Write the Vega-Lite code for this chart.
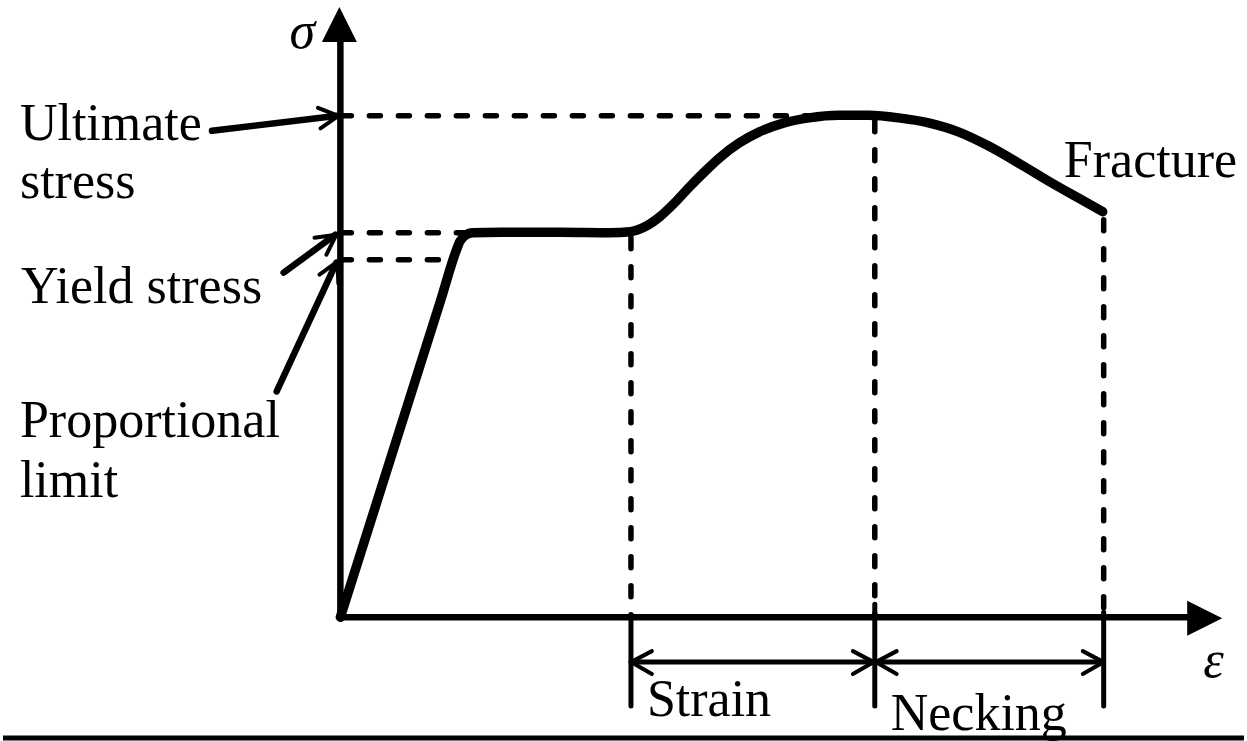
{
  "$schema": "https://vega.github.io/schema/vega-lite/v6.json",
  "autosize": {"type": "fit", "contains": "padding"},
  "width": 1247,
  "height": 741,
  "padding": 0,
  "background": "white",
  "config": {"view": {"stroke": null}},
  "datasets": {
    "curve": [
      {"strain": 0, "stress": 0},
      {"strain": 101, "stress": 318},
      {"strain": 116, "stress": 366},
      {"strain": 120, "stress": 376},
      {"strain": 125, "stress": 382},
      {"strain": 133, "stress": 385},
      {"strain": 161, "stress": 385.5},
      {"strain": 221, "stress": 385.5},
      {"strain": 271, "stress": 385},
      {"strain": 291, "stress": 386},
      {"strain": 306, "stress": 391},
      {"strain": 321, "stress": 401},
      {"strain": 336, "stress": 415},
      {"strain": 351, "stress": 431},
      {"strain": 366, "stress": 446},
      {"strain": 381, "stress": 460},
      {"strain": 401, "stress": 475},
      {"strain": 421, "stress": 486},
      {"strain": 446, "stress": 495},
      {"strain": 471, "stress": 500},
      {"strain": 501, "stress": 502.5},
      {"strain": 531, "stress": 502.5},
      {"strain": 561, "stress": 500},
      {"strain": 591, "stress": 495},
      {"strain": 621, "stress": 486},
      {"strain": 651, "stress": 472},
      {"strain": 681, "stress": 455},
      {"strain": 711, "stress": 437},
      {"strain": 741, "stress": 420},
      {"strain": 766, "stress": 406}
    ],
    "axes": [
      {"e1": 0, "s1": 0, "e2": 0, "s2": 578},
      {"e1": 0, "s1": 0, "e2": 856, "s2": 0}
    ],
    "tips": [
      {"e": -1, "s": 593.5, "dir": "up"},
      {"e": 868.5, "s": -1, "dir": "right"}
    ],
    "guides": [
      {"e1": 0, "s1": 502, "e2": 536, "s2": 502},
      {"e1": 0, "s1": 385, "e2": 124, "s2": 385},
      {"e1": 0, "s1": 358, "e2": 112, "s2": 358},
      {"e1": 292, "s1": 380, "e2": 292, "s2": 0},
      {"e1": 537, "s1": 497, "e2": 537, "s2": 0},
      {"e1": 767, "s1": 398, "e2": 767, "s2": 0}
    ],
    "dims": [
      {"e1": 292, "s1": 0, "e2": 292, "s2": -89},
      {"e1": 537, "s1": 13, "e2": 537, "s2": -89},
      {"e1": 767, "s1": 5, "e2": 767, "s2": -89},
      {"e1": 292, "s1": -45, "e2": 537, "s2": -45},
      {"e1": 537, "s1": -45, "e2": 767, "s2": -45}
    ],
    "leaders": [
      {"e1": -129, "s1": 487, "e2": -3, "s2": 502},
      {"e1": -57, "s1": 345, "e2": -5, "s2": 383},
      {"e1": -64, "s1": 226, "e2": -4, "s2": 355}
    ],
    "heads": [
      {"e1": -2, "s1": 502, "e2": -22.5, "s2": 510},
      {"e1": -2, "s1": 502, "e2": -20, "s2": 489.5},
      {"e1": -4, "s1": 383, "e2": -26, "s2": 380},
      {"e1": -4, "s1": 383, "e2": -14, "s2": 363},
      {"e1": -3, "s1": 356, "e2": -21, "s2": 343},
      {"e1": -3, "s1": 356, "e2": -2, "s2": 334},
      {"e1": 292, "s1": -45, "e2": 313, "s2": -34},
      {"e1": 292, "s1": -45, "e2": 313, "s2": -57},
      {"e1": 536, "s1": -45, "e2": 515, "s2": -34},
      {"e1": 536, "s1": -45, "e2": 515, "s2": -57},
      {"e1": 538, "s1": -45, "e2": 559, "s2": -34},
      {"e1": 538, "s1": -45, "e2": 559, "s2": -57},
      {"e1": 767, "s1": -45, "e2": 746, "s2": -34},
      {"e1": 767, "s1": -45, "e2": 746, "s2": -57}
    ],
    "frame": [
      {"e1": -339, "s1": -121, "e2": 908, "s2": -121}
    ],
    "labels": [
      {"e": -322, "s": 478, "text": "Ultimate"},
      {"e": -322, "s": 420, "text": "stress"},
      {"e": -321, "s": 315, "text": "Yield stress"},
      {"e": -322, "s": 180, "text": "Proportional"},
      {"e": -322, "s": 120, "text": "limit"},
      {"e": 727, "s": 441, "text": "Fracture"},
      {"e": 308, "s": -99, "text": "Strain"},
      {"e": 553, "s": -113, "text": "Necking"}
    ],
    "symbols": [
      {"e": -51, "s": 570, "text": "σ"},
      {"e": 867, "s": -60, "text": "ε"}
    ]
  },
  "layer": [
    {
      "data": {"name": "guides"},
      "mark": {"type": "rule", "color": "black", "strokeWidth": 5.5, "strokeDash": [11, 18], "strokeCap": "round"},
      "encoding": {
        "x": {"field": "e1", "type": "quantitative", "scale": {"domain": [-339, 908], "nice": false, "zero": false}, "axis": null},
        "y": {"field": "s1", "type": "quantitative", "scale": {"domain": [-123, 618], "nice": false, "zero": false}, "axis": null},
        "x2": {"field": "e2"},
        "y2": {"field": "s2"}
      }
    },
    {
      "data": {"name": "axes"},
      "mark": {"type": "rule", "color": "black", "strokeWidth": 6.5},
      "encoding": {
        "x": {"field": "e1", "type": "quantitative", "axis": null},
        "y": {"field": "s1", "type": "quantitative", "axis": null},
        "x2": {"field": "e2"},
        "y2": {"field": "s2"}
      }
    },
    {
      "data": {"name": "tips"},
      "mark": {"type": "point", "filled": true, "color": "black", "opacity": 1, "size": 1225},
      "encoding": {
        "x": {"field": "e", "type": "quantitative", "axis": null},
        "y": {"field": "s", "type": "quantitative", "axis": null},
        "shape": {"field": "dir", "type": "nominal", "legend": null, "scale": {"domain": ["up", "right"], "range": ["M0,-1L-1,1L1,1Z", "M1,0L-1,-1L-1,1Z"]}}
      }
    },
    {
      "data": {"name": "dims"},
      "mark": {"type": "rule", "color": "black", "strokeWidth": 5, "strokeCap": "round"},
      "encoding": {
        "x": {"field": "e1", "type": "quantitative", "axis": null},
        "y": {"field": "s1", "type": "quantitative", "axis": null},
        "x2": {"field": "e2"},
        "y2": {"field": "s2"}
      }
    },
    {
      "data": {"name": "leaders"},
      "mark": {"type": "rule", "color": "black", "strokeWidth": 6.5, "strokeCap": "round"},
      "encoding": {
        "x": {"field": "e1", "type": "quantitative", "axis": null},
        "y": {"field": "s1", "type": "quantitative", "axis": null},
        "x2": {"field": "e2"},
        "y2": {"field": "s2"}
      }
    },
    {
      "data": {"name": "heads"},
      "mark": {"type": "rule", "color": "black", "strokeWidth": 4, "strokeCap": "round"},
      "encoding": {
        "x": {"field": "e1", "type": "quantitative", "axis": null},
        "y": {"field": "s1", "type": "quantitative", "axis": null},
        "x2": {"field": "e2"},
        "y2": {"field": "s2"}
      }
    },
    {
      "data": {"name": "frame"},
      "mark": {"type": "rule", "color": "black", "strokeWidth": 5},
      "encoding": {
        "x": {"field": "e1", "type": "quantitative", "axis": null},
        "y": {"field": "s1", "type": "quantitative", "axis": null},
        "x2": {"field": "e2"},
        "y2": {"field": "s2"}
      }
    },
    {
      "data": {"name": "curve"},
      "mark": {"type": "line", "color": "black", "strokeWidth": 9.5, "interpolate": "monotone", "strokeCap": "round", "strokeJoin": "round"},
      "encoding": {
        "x": {"field": "strain", "type": "quantitative", "axis": null},
        "y": {"field": "stress", "type": "quantitative", "axis": null}
      }
    },
    {
      "data": {"name": "labels"},
      "mark": {"type": "text", "font": "Liberation Serif", "fontSize": 52, "align": "left", "baseline": "alphabetic", "color": "black"},
      "encoding": {
        "x": {"field": "e", "type": "quantitative", "axis": null},
        "y": {"field": "s", "type": "quantitative", "axis": null},
        "text": {"field": "text"}
      }
    },
    {
      "data": {"name": "symbols"},
      "mark": {"type": "text", "font": "Liberation Serif", "fontSize": 52, "fontStyle": "italic", "align": "left", "baseline": "alphabetic", "color": "black"},
      "encoding": {
        "x": {"field": "e", "type": "quantitative", "axis": null},
        "y": {"field": "s", "type": "quantitative", "axis": null},
        "text": {"field": "text"}
      }
    }
  ]
}
